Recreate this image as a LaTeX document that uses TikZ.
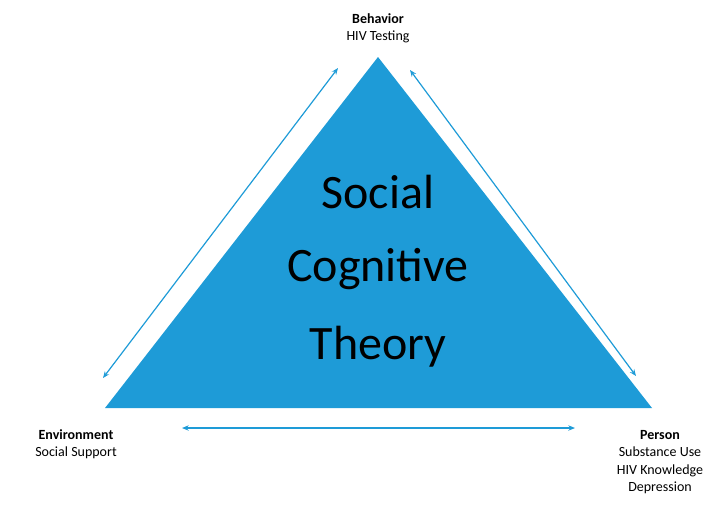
\documentclass[tikz,border=0pt]{standalone}
\usepackage{fontspec}
\usetikzlibrary{arrows.meta}
\setmainfont{Carlito}
\definecolor{tri}{HTML}{1E9BD7}
\begin{document}
\begin{tikzpicture}[x=0.75pt,y=-0.75pt,
  lbl/.style={font=\fontsize{10.5}{13}\selectfont,align=center,inner sep=0},
  arr/.style={tri,line width=0.9pt,{Stealth[length=5pt,width=4pt]}-{Stealth[length=5pt,width=4pt]}},
  big/.style={font=\fontsize{36}{36}\selectfont,inner sep=0}]
\useasboundingbox (0,0) rectangle (728,515);
\fill[tri] (378,57) -- (652,408) -- (105,408) -- cycle;
\node[big] (t1) at (378,192) {Social};
\node[big] (t2) at (378,269) {Cognitive};
\node[big] (t3) at (378,347) {Theory};
\node[lbl] (beh) at (378,28) {\textbf{Behavior}\\HIV Testing};
\node[lbl] (env) at (76,444) {\textbf{Environment}\\Social Support};
\node[lbl] (per) at (660,462) {\textbf{Person}\\Substance Use\\HIV Knowledge\\Depression};
\coordinate (a1) at (103,378); \coordinate (a2) at (338,68);
\coordinate (b1) at (410,70); \coordinate (b2) at (636,376);
\coordinate (c1) at (182,428); \coordinate (c2) at (575,428);
\draw[arr] (a1) -- (a2);
\draw[arr] (b1) -- (b2);
\draw[arr] (c1) -- (c2);
\end{tikzpicture}
\end{document}
